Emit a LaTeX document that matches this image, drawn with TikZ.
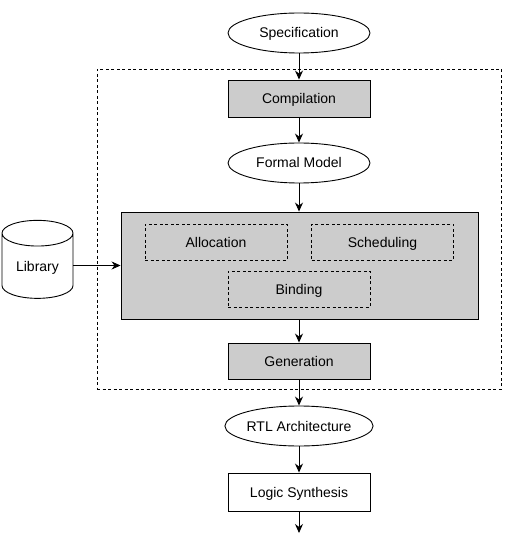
\documentclass[tikz,border=0pt]{standalone}
\usepackage{fontspec}
\setmainfont{Liberation Sans}
\usetikzlibrary{arrows.meta,shapes.geometric}

\begin{document}
\begin{tikzpicture}[x=1pt, y=-1pt,
    font=\fontsize{14}{16}\selectfont,
    every node/.style={line width=0.9pt, inner sep=0pt, text height=10pt, text depth=0pt},
    flow/.style={-{Stealth[length=9pt,width=8pt]}, line width=0.9pt},
    oval/.style={draw, ellipse, fill=white, minimum width=142pt, minimum height=40pt},
    stepbox/.style={draw, rectangle, minimum width=142pt, minimum height=37pt},
    graybox/.style={stepbox, fill=gray!40},
    subtask/.style={draw, dashed, dash pattern=on 3pt off 2.5pt, rectangle, minimum width=142pt, minimum height=36pt},
    ]
    \useasboundingbox (0,0) rectangle (504,534);

    % --- outer HLS frame ---
    \node[draw, dashed, dash pattern=on 3pt off 2.5pt, minimum width=404pt, minimum height=320pt] (hls) at (299,229) {};

    % --- flow ---
    \node[oval] (spec) at (299,33) {Specification};
    \node[graybox] (comp) at (299,98.5) {Compilation};
    \node[oval] (model) at (299,163) {Formal Model};

    % synthesis core
    \node[draw, fill=gray!40, minimum width=357pt, minimum height=107pt] (core) at (299.5,265.5) {};
    \node[subtask] (alloc) at (216,242) {Allocation};
    \node[subtask] (sched) at (382.5,242) {Scheduling};
    \node[subtask] (bind) at (299,289) {Binding};

    \node[graybox, minimum height=36pt] (gen) at (299,361) {Generation};
    \node[oval] (rtl) at (299,426) {RTL Architecture};
    \node[stepbox, minimum height=38pt] (logic) at (299,492) {Logic Synthesis};
    \coordinate (out) at (299,533);

    % library
    \node[draw, cylinder, shape border rotate=90, aspect=0.6, fill=white,
        minimum width=71pt, minimum height=78pt] (lib) at (37.5,266) {Library};

    % --- connectors ---
    \draw[flow] (spec) -- (comp);
    \draw[flow] (comp) -- (model);
    \draw[flow] (model) -- (core.north -| model);
    \draw[flow] (core.south -| gen) -- (gen);
    \draw[flow] (gen) -- (rtl);
    \draw[flow] (rtl) -- (logic);
    \draw[flow] (logic) -- (out);
    \draw[flow] (lib.east |- core.west) -- (core.west);
\end{tikzpicture}
\end{document}
